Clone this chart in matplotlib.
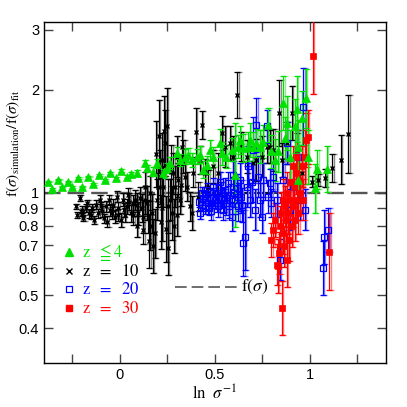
import numpy as np
import matplotlib
matplotlib.use("Agg")
import matplotlib.pyplot as plt
from matplotlib.ticker import FixedLocator, NullFormatter

plt.rcParams['mathtext.fontset'] = 'stix'
plt.rcParams['font.family'] = ['Liberation Sans', 'DejaVu Sans']

# z = 10 (black crosses): x, ratio, relative error
x10 = [-0.232, -0.225, -0.211, -0.202, -0.193, -0.179, -0.172, -0.161, -0.149, -0.137,
       -0.126, -0.114, -0.105, -0.096, -0.084, -0.074, -0.067, -0.056, -0.044, -0.035,
       -0.026, -0.018, -0.009, 0.004, 0.014, 0.026, 0.035, 0.044, 0.056, 0.067,
       0.079, 0.088, 0.096, 0.105, 0.114, 0.123, 0.132, 0.140, 0.149, 0.158,
       0.167, 0.175, 0.184, 0.193, 0.202, 0.211, 0.219, 0.228, 0.237, 0.246,
       0.251, 0.254, 0.263, 0.272, 0.281, 0.289, 0.298, 0.307, 0.316, 0.325,
       0.333, 0.342, 0.351, 0.368, 0.386, 0.412, 0.421, 0.430, 0.447, 0.465,
       0.491, 0.518, 0.535, 0.553, 0.579, 0.596, 0.618, 0.640, 0.667, 0.702,
       0.719, 0.746, 0.772, 0.789, 0.807, 0.839, 0.851, 0.877, 0.904, 0.930,
       0.956, 1.009, 1.044, 1.079, 1.118, 1.162, 1.202,
       0.190, 0.205, 0.215, 0.222, 0.232, 0.240, 0.270, 0.285, 0.300, 0.320,
       0.155, 0.160, 0.120, 0.130, 0.090, 0.070, 0.050, 0.020, -0.010, -0.050,
       -0.100, -0.150, -0.200, 0.400, 0.380]
y10 = [0.910, 0.860, 0.962, 0.890, 0.841, 0.900, 0.930, 0.870, 0.900, 0.831,
       0.920, 0.870, 0.952, 0.880, 0.841, 0.910, 0.822, 0.952, 0.870, 0.920,
       0.850, 0.973, 0.900, 0.831, 0.952, 0.860, 0.910, 0.984, 0.870, 0.930,
       0.952, 0.795, 0.870, 0.962, 0.900, 0.777, 1.041, 0.930, 0.850, 0.996,
       0.870, 0.695, 0.760, 0.952, 1.041, 1.114, 1.247, 1.041, 1.395, 1.562,
       0.687, 0.910, 0.952, 0.870, 1.139, 1.041, 1.275, 1.089, 0.952, 1.364,
       1.275, 1.114, 1.041, 0.910, 1.139, 0.973, 1.247, 1.579, 1.139, 1.041,
       1.192, 1.139, 1.493, 1.364, 1.395, 1.275, 1.934, 1.364, 1.275, 1.219,
       1.247, 1.275, 1.364, 1.364, 1.334, 1.708, 1.247, 1.395, 1.708, 1.334,
       1.139, 1.077, 1.089, 1.102, 1.179, 1.247, 1.486,
       1.300, 1.460, 0.820, 0.900, 1.510, 0.780, 1.150, 0.800, 0.860, 1.050,
       0.720, 0.800, 0.850, 0.950, 0.920, 0.860, 0.940, 0.890, 0.860, 0.890,
       0.910, 0.860, 0.870, 1.500, 0.870]
e10 = [0.02, 0.02, 0.02, 0.025, 0.02, 0.025, 0.02, 0.03, 0.03, 0.025,
       0.03, 0.03, 0.03, 0.035, 0.03, 0.035, 0.04, 0.035, 0.04, 0.04,
       0.045, 0.04, 0.04, 0.05, 0.045, 0.05, 0.05, 0.05, 0.06, 0.06,
       0.07, 0.07, 0.08, 0.08, 0.10, 0.10, 0.10, 0.12, 0.12, 0.12,
       0.14, 0.20, 0.18, 0.15, 0.15, 0.20, 0.20, 0.15, 0.25, 0.30,
       0.20, 0.20, 0.15, 0.20, 0.15, 0.15, 0.15, 0.12, 0.10, 0.12,
       0.12, 0.10, 0.10, 0.10, 0.10, 0.10, 0.10, 0.10, 0.10, 0.12,
       0.12, 0.15, 0.12, 0.15, 0.12, 0.15, 0.17, 0.10, 0.12, 0.12,
       0.15, 0.15, 0.12, 0.12, 0.15, 0.25, 0.12, 0.15, 0.20, 0.12,
       0.10, 0.04, 0.04, 0.06, 0.10, 0.18, 0.30,
       0.25, 0.28, 0.20, 0.25, 0.27, 0.25, 0.20, 0.20, 0.15, 0.15,
       0.20, 0.18, 0.12, 0.10, 0.08, 0.07, 0.06, 0.05, 0.04, 0.04,
       0.03, 0.03, 0.02, 0.18, 0.12]

# z <= 4 (green triangles)
x4 = [-0.377, -0.325, -0.272, -0.219, -0.167, -0.109, -0.053, 0.004,
      -0.360, -0.307, -0.254, -0.202, -0.140, -0.079, -0.021, 0.035,
      0.060, 0.088, 0.132, 0.140, 0.175, 0.193, 0.228, 0.246, 0.263, 0.298,
      0.316, 0.342, 0.360, 0.377, 0.404, 0.421, 0.439, 0.456, 0.474, 0.491,
      0.526, 0.535, 0.561, 0.588, 0.605, 0.623, 0.632, 0.649, 0.675, 0.684,
      0.702, 0.719, 0.737, 0.754, 0.781, 0.798, 0.816, 0.833, 0.860, 0.868,
      0.877, 0.895, 0.921, 0.930, 0.939, 0.939, 0.956, 0.979, 0.991, 1.026,
      1.039, 1.091]
y4 = [1.077, 1.090, 1.077, 1.102, 1.114, 1.127, 1.140, 1.158,
      1.025, 1.041, 1.037, 1.041, 1.060, 1.090, 1.100, 1.114,
      1.130, 1.139, 1.219, 1.178, 1.152, 1.219, 1.139, 1.178, 1.219, 1.304,
      1.247, 1.275, 1.290, 1.247, 1.275, 1.290, 1.166, 1.205, 1.334, 1.275,
      1.395, 1.304, 1.275, 1.334, 1.127, 1.364, 1.427, 1.349, 1.364, 1.427,
      1.364, 1.395, 1.364, 1.411, 1.579, 1.319, 1.247, 1.319, 1.828, 1.443,
      1.597, 1.275, 1.562, 1.757, 1.364, 1.089, 1.652, 1.891, 1.275, 1.030,
      1.171, 1.171]
e4 = [0.005, 0.005, 0.005, 0.005, 0.006, 0.006, 0.008, 0.01,
      0.005, 0.005, 0.005, 0.005, 0.006, 0.008, 0.01, 0.012,
      0.015, 0.02, 0.02, 0.02, 0.03, 0.03, 0.03, 0.035, 0.04, 0.04,
      0.04, 0.05, 0.05, 0.05, 0.05, 0.06, 0.06, 0.06, 0.07, 0.07,
      0.10, 0.08, 0.08, 0.08, 0.42, 0.08, 0.10, 0.10, 0.10, 0.12,
      0.10, 0.10, 0.12, 0.12, 0.12, 0.12, 0.15, 0.15, 0.20, 0.15,
      0.20, 0.20, 0.20, 0.25, 0.20, 0.15, 0.20, 0.22, 0.20, 0.18,
      0.14, 0.17]

# z = 20 (blue open squares)
x20 = [0.418, 0.421, 0.430, 0.439, 0.447, 0.456, 0.465, 0.474, 0.482, 0.491,
       0.500, 0.509, 0.518, 0.526, 0.535, 0.544, 0.553, 0.561, 0.570, 0.579,
       0.588, 0.596, 0.605, 0.614, 0.623, 0.632, 0.640, 0.649, 0.658, 0.667,
       0.675, 0.684, 0.693, 0.702, 0.711, 0.719, 0.728, 0.737, 0.746, 0.754,
       0.772, 0.781, 0.789, 0.798, 0.807, 0.825, 0.842, 0.860, 0.877, 0.895,
       0.912, 0.939, 0.947, 0.965, 0.974, 1.075, 1.070, 1.098,
       0.432, 0.452, 0.470, 0.488, 0.512, 0.530, 0.550, 0.572, 0.600, 0.620, 0.642]
y20 = [0.941, 0.870, 0.996, 0.962, 0.910, 1.018, 0.930, 0.973, 0.880, 1.041,
       0.952, 0.996, 0.910, 1.077, 0.962, 0.890, 1.018, 0.930, 1.065, 0.984,
       0.850, 1.127, 0.952, 1.030, 0.910, 1.089, 0.973, 0.710, 0.743, 1.041,
       1.192, 0.952, 1.077, 1.334, 0.890, 1.579, 1.114, 0.952, 0.850, 1.089,
       1.562, 0.973, 1.065, 0.930, 1.114, 0.952, 0.635, 1.089, 1.395, 0.890,
       1.041, 1.275, 0.952, 1.787, 0.890, 0.743, 0.600, 0.774,
       0.920, 0.990, 0.900, 0.970, 0.930, 1.000, 0.950, 0.910, 1.000, 0.970, 0.920]
e20 = [0.04, 0.04, 0.04, 0.05, 0.05, 0.05, 0.05, 0.05, 0.06, 0.06,
       0.06, 0.06, 0.07, 0.07, 0.07, 0.07, 0.08, 0.08, 0.08, 0.08,
       0.10, 0.10, 0.10, 0.10, 0.10, 0.12, 0.12, 0.25, 0.25, 0.15,
       0.15, 0.12, 0.15, 0.25, 0.15, 0.20, 0.15, 0.12, 0.12, 0.12,
       0.12, 0.12, 0.10, 0.10, 0.10, 0.12, 0.15, 0.15, 0.15, 0.15,
       0.15, 0.20, 0.15, 0.30, 0.15, 0.20, 0.20, 0.16,
       0.04, 0.05, 0.05, 0.06, 0.06, 0.07, 0.08, 0.08, 0.10, 0.10, 0.12]

# z = 30 (red filled squares)
x30 = [0.798, 0.807, 0.816, 0.825, 0.833, 0.839, 0.842, 0.846, 0.851, 0.856,
       0.860, 0.863, 0.868, 0.874, 0.877, 0.881, 0.886, 0.891, 0.895, 0.898,
       0.904, 0.909, 0.912, 0.916, 0.921, 0.926, 0.930, 0.933, 0.939, 0.944,
       0.947, 0.956, 0.965, 0.974, 0.982, 0.991, 1.014, 1.102]
y30 = [0.726, 0.777, 0.831, 0.614, 0.607, 0.664, 0.795, 0.870, 0.458, 0.952,
       0.760, 0.695, 0.910, 0.831, 0.635, 0.996, 0.870, 0.726, 1.077, 0.952,
       0.795, 1.192, 0.910, 1.041, 0.831, 1.139, 0.952, 1.275, 0.870, 1.089,
       0.996, 1.192, 0.952, 1.275, 1.427, 1.459, 2.520, 0.671]
e30 = [0.12, 0.12, 0.12, 0.15, 0.20, 0.15, 0.15, 0.15, 0.20, 0.15,
       0.15, 0.15, 0.15, 0.15, 0.20, 0.15, 0.15, 0.15, 0.15, 0.15,
       0.15, 0.15, 0.15, 0.15, 0.15, 0.15, 0.15, 0.20, 0.15, 0.15,
       0.15, 0.15, 0.15, 0.20, 0.20, 0.20, 0.30, 0.30]

series = [
    (x10, y10, e10, 'k', '#888888', dict(marker='x', ms=3.5, mew=1.0, mfc='k')),
    (x20, y20, e20, 'b', '#8080ff', dict(marker='s', ms=4.2, mew=0.9, mfc='none')),
    (x30, y30, e30, 'r', '#ff8080', dict(marker='s', ms=3.8, mew=0.5, mfc='r')),
    (x4, y4, e4, '#00e000', '#90f090', dict(marker='^', ms=6.3, mew=0.5, mfc='#00e000')),
]

fig = plt.figure(figsize=(4.07, 4.07), dpi=100)
ax = fig.add_axes([0.108, 0.108, 0.840, 0.838])

ax.axhline(1.0, color='#555555', lw=1.7, dashes=(7, 3), zorder=1)
ax.hlines(1.0, 0.42, 0.98, color='k', lw=1.2, zorder=1)

for xs, ys, es, col, shade, mk in series:
    xs = np.array(xs)
    ys = np.array(ys)
    es = np.array(es)
    lo = ys - ys / (1 + es)
    hi = ys * es
    ax.errorbar(xs + 0.007, ys, yerr=[lo, hi], fmt='none', ecolor=shade,
                elinewidth=1.0, capsize=2.5, capthick=1.0, zorder=2)
    ax.errorbar(xs, ys, yerr=[lo, hi], fmt='none', ecolor=col,
                elinewidth=0.9, capsize=2.5, capthick=0.9, zorder=3)
    ax.plot(xs, ys, ls='none', color=col, mec=col, zorder=4, **mk)

ax.set_yscale('log')
ax.set_xlim(-0.4, 1.4)
ax.set_ylim(10 ** -0.5, 10 ** 0.5)

yt = [0.4, 0.5, 0.6, 0.7, 0.8, 0.9, 1, 2, 3]
ax.yaxis.set_major_locator(FixedLocator(yt))
ax.yaxis.set_minor_locator(FixedLocator([]))
ax.set_yticklabels(['0.4', '0.5', '0.6', '0.7', '0.8', '0.9', '1', '2', '3'])
ax.set_xticks([0, 0.5, 1])
ax.set_xticklabels(['0', '0.5', '1'])
ax.xaxis.set_minor_locator(FixedLocator([-0.25, 0.25, 0.75, 1.25]))
ax.xaxis.set_minor_formatter(NullFormatter())
ax.tick_params(which='both', direction='in', top=True, right=True, length=6.5,
               width=1.0, labelsize=10.5, color='#444444')

for s in ax.spines.values():
    s.set_linewidth(1.0)

ax.set_xlabel(r'$\mathrm{ln}\ \ \sigma^{-1}$', fontsize=12, labelpad=1)
ax.set_ylabel(r'$\mathrm{f}(\sigma)_{\rm simulation}/\mathrm{f}(\sigma)_{\rm fit}$',
              fontsize=11)
ax.yaxis.set_label_coords(-0.065, 0.645)

# key
ax.plot([-0.268], [0.667], marker='^', ms=6, color='#00e000', ls='none')
ax.plot([-0.268], [0.590], marker='x', ms=4, mew=1.0, color='k', ls='none')
ax.plot([-0.268], [0.522], marker='s', ms=5, mfc='none', mec='b', mew=0.9, ls='none')
ax.plot([-0.268], [0.459], marker='s', ms=5, color='r', ls='none')
ax.text(-0.2, 0.667, r'$\mathrm{z}\ \ \leqq 4$', color='#00e000', fontsize=12, va='center')
ax.text(-0.2, 0.590, r'$\mathrm{z}\ \ =\ \ 10$', color='k', fontsize=12, va='center')
ax.text(-0.2, 0.522, r'$\mathrm{z}\ \ =\ \ 20$', color='b', fontsize=12, va='center')
ax.text(-0.2, 0.459, r'$\mathrm{z}\ \ =\ \ 30$', color='r', fontsize=12, va='center')
ax.plot([0.29, 0.616], [0.529, 0.529], color='#555555', lw=1.2, dashes=(7, 3))
ax.text(0.64, 0.529, r'$\mathrm{f}(\sigma)$', fontsize=12.5, va='center')

fig.savefig('out.png', dpi=100)
